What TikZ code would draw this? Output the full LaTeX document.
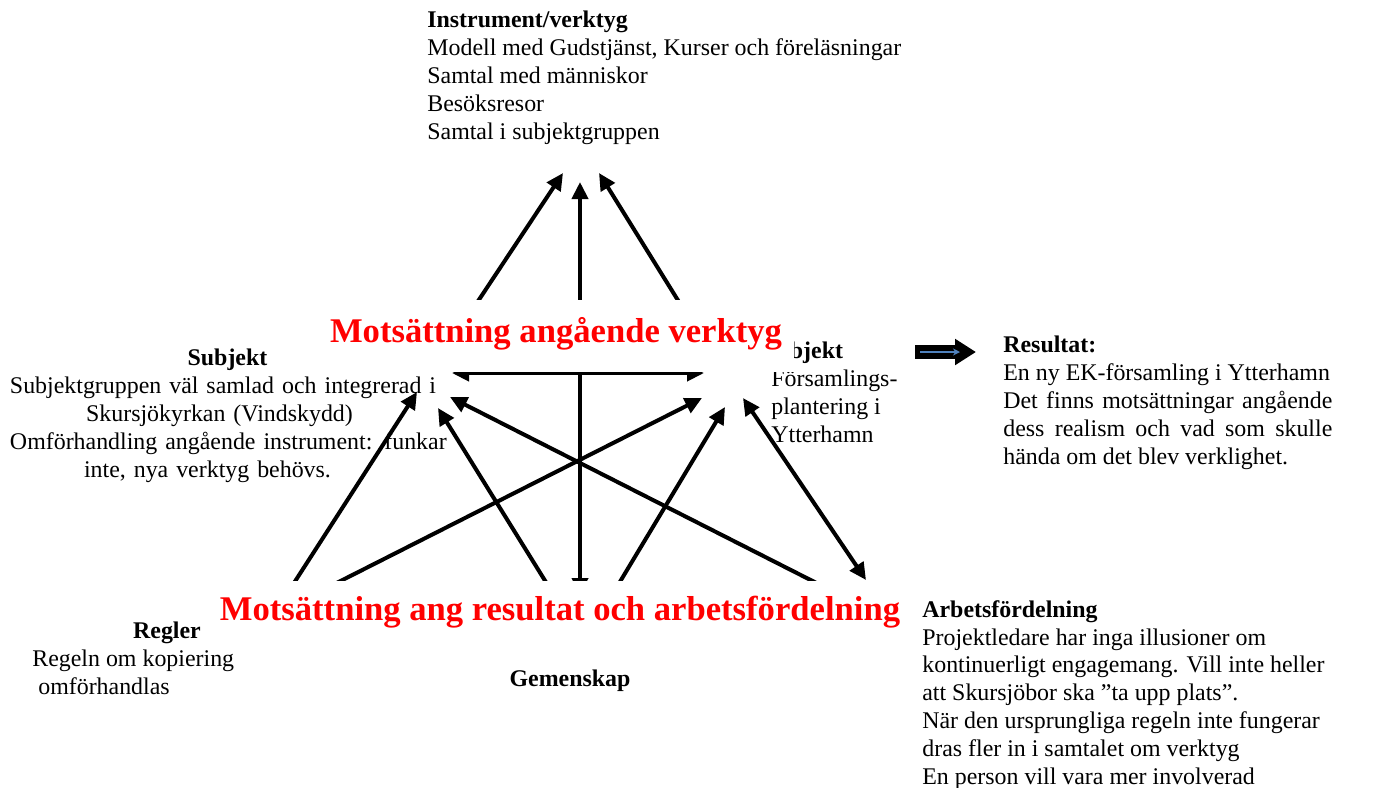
\documentclass[tikz,border=0pt]{standalone}
\usepackage{fontspec}
\setmainfont{Liberation Serif}
\usetikzlibrary{arrows.meta}
\definecolor{officeblue}{RGB}{79,129,189}

\begin{document}
\begin{tikzpicture}[x=0.2mm,y=-0.2mm, % une unite = un pixel de l'image
  pil/.style={line width=0.8mm,-{Triangle[length=3.4mm,width=3.2mm]}},
  dubbelpil/.style={line width=0.8mm,{Triangle[length=3.4mm,width=3.2mm]}-{Triangle[length=3.4mm,width=3.2mm]}},
  txt/.style={inner sep=0pt,font=\fontsize{13.6}{15.85}\selectfont},
  rubrik/.style={inner sep=0pt,font=\fontsize{13.6}{15.85}\selectfont\bfseries},
  motsattning/.style={fill=white,inner sep=0pt,inner xsep=2.4mm,text=red,anchor=base,
    font=\fontsize{19.7}{24}\selectfont\bfseries}]
\useasboundingbox (0,0) rectangle (1377,787);

% les extremites des fleches
\coordinate (instr-v) at (563,173);
\coordinate (instr-m) at (580,182);
\coordinate (instr-h) at (599,173);
\coordinate (subj) at (439,360);
\coordinate (obj) at (715,360);
\coordinate (subj-h) at (452,373);
\coordinate (obj-h) at (704,373);
\coordinate (subj-a) at (417,392);
\coordinate (subj-b) at (450,397);
\coordinate (subj-c) at (438,408);
\coordinate (obj-d) at (702,398);
\coordinate (obj-e) at (725,407);
\coordinate (obj-f) at (743,398);
\coordinate (regl-a) at (283,600);
\coordinate (regl-d) at (303,600);
\coordinate (gem-c) at (557,600);
\coordinate (gem-m) at (580,595);
\coordinate (gem-e) at (609,600);
\coordinate (arb-b) at (850,600);
\coordinate (arb-f) at (866,580);
\coordinate (pil-a) at (915,352);
\coordinate (pil-b) at (976,352);

\draw[pil] (subj) -- (instr-v);
\draw[pil] (obj) -- (instr-h);
\draw[dubbelpil] (gem-m) -- (instr-m);
\draw[dubbelpil] (subj-h) -- (obj-h);
\draw[pil] (regl-a) -- (subj-a);
\draw[pil] (regl-d) -- (obj-d);
\draw[pil] (gem-c) -- (subj-c);
\draw[pil] (gem-e) -- (obj-e);
\draw[pil] (arb-b) -- (subj-b);
\draw[dubbelpil] (arb-f) -- (obj-f);

% la grosse fleche vers le resultat
\draw[line width=2.8mm,-{Triangle[length=4.2mm,width=5mm]}] (pil-a) -- (pil-b);
\draw[officeblue,line width=0.35mm,-{Stealth[length=1.4mm,width=1.4mm]}] ([xshift=1mm]pil-a) -- ([xshift=-3.2mm]pil-b);

\node[txt,anchor=north west,align=left] (instr) at (427,11) {\textbf{Instrument/verktyg}\\Modell med Gudstjänst, Kurser och föreläsningar\\Samtal med människor\\Besöksresor\\Samtal i subjektgruppen};
\node[txt,anchor=north,align=center,text width=87mm] (subjekt) at (227.5,349) {\textbf{Subjekt}\\\makebox[87mm][s]{Subjektgruppen väl samlad och integrerad i}\\\hspace*{-3.2mm}Skursjökyrkan (Vindskydd)\\\makebox[87mm][s]{Omförhandling angående instrument: funkar}\\\hspace*{-8mm}inte, nya verktyg behövs.};
\node[txt,anchor=north west,align=left] (objekt) at (771,342) {\textbf{Objekt}\\Församlings-\\plantering i\\Ytterhamn};
\node[txt,anchor=north west,align=left] (res) at (1003,336) {\textbf{Resultat:}\\En ny EK-församling i Ytterhamn\\\makebox[65.8mm][s]{Det finns motsättningar angående}\\\makebox[65.8mm][s]{dess realism och vad som skulle}\\hända om det blev verklighet.};
\node[rubrik,anchor=base] (regler) at (167,638) {Regler};
\node[txt,anchor=north west,align=left] (regeltext) at (32,650) {Regeln om kopiering\\\hspace*{0.25em}omförhandlas};
\node[rubrik,anchor=base] (gemenskap) at (570,686) {Gemenskap};
\node[txt,anchor=north west,align=left] (arb) at (922,600) {\textbf{Arbetsfördelning}\\Projektledare har inga illusioner om\\kontinuerligt engagemang. Vill inte heller\\att Skursjöbor ska ”ta upp plats”.\\När den ursprungliga regeln inte fungerar\\dras fler in i samtalet om verktyg\\En person vill vara mer involverad};

% les deux contradictions, en blanc par-dessus les fleches
\node[motsattning,text height=8.4mm,text depth=6mm] (mots-verktyg) at (556,342) {Motsättning angående verktyg};
\node[motsattning,text height=7.8mm,text depth=4mm] (mots-resultat) at (560,620) {Motsättning ang resultat och arbetsfördelning};
\end{tikzpicture}
\end{document}
